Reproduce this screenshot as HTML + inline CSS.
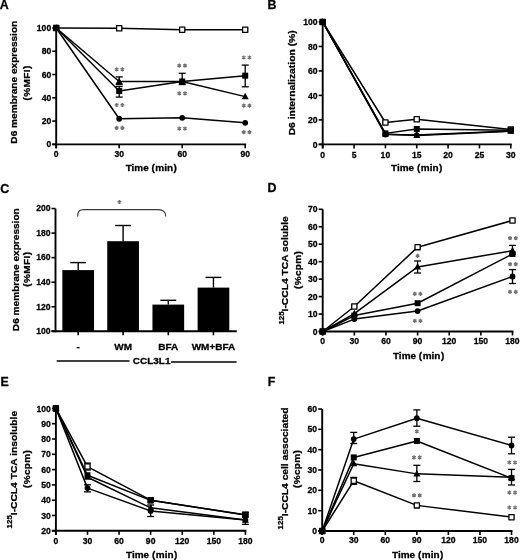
<!DOCTYPE html>
<html><head><meta charset="utf-8"><style>
html,body{margin:0;padding:0;background:#fff;}
body{width:520px;height:560px;overflow:hidden;}
svg{display:block;filter:grayscale(1) blur(0.3px);}
</style></head><body>
<svg width="520" height="560" viewBox="0 0 520 560" font-family='"Liberation Sans", sans-serif' stroke-linejoin="round">
<style>text{stroke:#000;stroke-width:0.28px;}</style>
<rect width="520" height="560" fill="#fff"/>
<text x="-0.2" y="8.7" font-size="12.4" text-anchor="start" fill="#000" font-weight="bold" >A</text>
<line x1="56.2" y1="27.95" x2="56.2" y2="148.35" stroke="#000" stroke-width="1.9" stroke-linecap="butt"/>
<line x1="52.2" y1="144.35" x2="246.15" y2="144.35" stroke="#000" stroke-width="1.9" stroke-linecap="butt"/>
<line x1="56.2" y1="144.35" x2="56.2" y2="148.35" stroke="#000" stroke-width="1.6" stroke-linecap="butt"/>
<text x="56.2" y="157.2" font-size="8.6" text-anchor="middle" fill="#000" font-weight="bold" >0</text>
<line x1="119.2" y1="144.35" x2="119.2" y2="148.35" stroke="#000" stroke-width="1.6" stroke-linecap="butt"/>
<text x="119.2" y="157.2" font-size="8.6" text-anchor="middle" fill="#000" font-weight="bold" >30</text>
<line x1="182.2" y1="144.35" x2="182.2" y2="148.35" stroke="#000" stroke-width="1.6" stroke-linecap="butt"/>
<text x="182.2" y="157.2" font-size="8.6" text-anchor="middle" fill="#000" font-weight="bold" >60</text>
<line x1="245.2" y1="144.35" x2="245.2" y2="148.35" stroke="#000" stroke-width="1.6" stroke-linecap="butt"/>
<text x="245.2" y="157.2" font-size="8.6" text-anchor="middle" fill="#000" font-weight="bold" >90</text>
<line x1="52.2" y1="144.35" x2="56.2" y2="144.35" stroke="#000" stroke-width="1.6" stroke-linecap="butt"/>
<text x="51.2" y="147.45" font-size="8.6" text-anchor="end" fill="#000" font-weight="bold" >0</text>
<line x1="52.2" y1="121.07" x2="56.2" y2="121.07" stroke="#000" stroke-width="1.6" stroke-linecap="butt"/>
<text x="51.2" y="124.17" font-size="8.6" text-anchor="end" fill="#000" font-weight="bold" >20</text>
<line x1="52.2" y1="97.79" x2="56.2" y2="97.79" stroke="#000" stroke-width="1.6" stroke-linecap="butt"/>
<text x="51.2" y="100.89" font-size="8.6" text-anchor="end" fill="#000" font-weight="bold" >40</text>
<line x1="52.2" y1="74.51" x2="56.2" y2="74.51" stroke="#000" stroke-width="1.6" stroke-linecap="butt"/>
<text x="51.2" y="77.61" font-size="8.6" text-anchor="end" fill="#000" font-weight="bold" >60</text>
<line x1="52.2" y1="51.23" x2="56.2" y2="51.23" stroke="#000" stroke-width="1.6" stroke-linecap="butt"/>
<text x="51.2" y="54.33" font-size="8.6" text-anchor="end" fill="#000" font-weight="bold" >80</text>
<line x1="52.2" y1="27.95" x2="56.2" y2="27.95" stroke="#000" stroke-width="1.6" stroke-linecap="butt"/>
<text x="51.2" y="31.05" font-size="8.6" text-anchor="end" fill="#000" font-weight="bold" >100</text>
<text transform="translate(151.3,171.2) scale(1.09,1)" font-size="9.17" text-anchor="middle" fill="#000" font-weight="bold" >Time (<tspan dx="0.45">min</tspan><tspan dx="0.45">)</tspan></text>
<text transform="translate(17.2,82.2) rotate(-90) scale(1.04,1)" font-size="9.73" text-anchor="middle" font-weight="bold" >D6 membrane expression</text>
<text transform="translate(29.5,82.8) rotate(-90) scale(1.04,1)" font-size="9.62" text-anchor="middle" font-weight="bold" letter-spacing="0.4">(%MFI)</text>
<polyline points="56.2,27.95 119.2,28.3 182.2,29.7 245.2,29.7" fill="none" stroke="#000" stroke-width="1.5" stroke-linejoin="round"/>
<polyline points="56.2,27.95 119.2,81.49 182.2,81.49 245.2,96.63" fill="none" stroke="#000" stroke-width="1.5" stroke-linejoin="round"/>
<polyline points="56.2,27.95 119.2,91.04 182.2,81.49 245.2,75.67" fill="none" stroke="#000" stroke-width="1.5" stroke-linejoin="round"/>
<polyline points="56.2,27.95 119.2,118.74 182.2,117.81 245.2,122.82" fill="none" stroke="#000" stroke-width="1.5" stroke-linejoin="round"/>
<line x1="119.2" y1="76.9" x2="119.2" y2="84.5" stroke="#000" stroke-width="1.3" stroke-linecap="butt"/>
<line x1="115.7" y1="76.9" x2="122.7" y2="76.9" stroke="#000" stroke-width="1.3" stroke-linecap="butt"/>
<line x1="115.7" y1="84.5" x2="122.7" y2="84.5" stroke="#000" stroke-width="1.3" stroke-linecap="butt"/>
<line x1="119.2" y1="86.5" x2="119.2" y2="97.1" stroke="#000" stroke-width="1.3" stroke-linecap="butt"/>
<line x1="115.7" y1="86.5" x2="122.7" y2="86.5" stroke="#000" stroke-width="1.3" stroke-linecap="butt"/>
<line x1="115.7" y1="97.1" x2="122.7" y2="97.1" stroke="#000" stroke-width="1.3" stroke-linecap="butt"/>
<line x1="182.2" y1="73.3" x2="182.2" y2="84.5" stroke="#000" stroke-width="1.3" stroke-linecap="butt"/>
<line x1="178.7" y1="73.3" x2="185.7" y2="73.3" stroke="#000" stroke-width="1.3" stroke-linecap="butt"/>
<line x1="178.7" y1="84.5" x2="185.7" y2="84.5" stroke="#000" stroke-width="1.3" stroke-linecap="butt"/>
<line x1="245.2" y1="65.1" x2="245.2" y2="86.8" stroke="#000" stroke-width="1.3" stroke-linecap="butt"/>
<line x1="241.7" y1="65.1" x2="248.7" y2="65.1" stroke="#000" stroke-width="1.3" stroke-linecap="butt"/>
<line x1="241.7" y1="86.8" x2="248.7" y2="86.8" stroke="#000" stroke-width="1.3" stroke-linecap="butt"/>
<rect x="53.6" y="25.35" width="5.2" height="5.2" fill="#fff" stroke="#000" stroke-width="1.3"/>
<rect x="116.6" y="25.7" width="5.2" height="5.2" fill="#fff" stroke="#000" stroke-width="1.3"/>
<rect x="179.6" y="27.1" width="5.2" height="5.2" fill="#fff" stroke="#000" stroke-width="1.3"/>
<rect x="242.6" y="27.1" width="5.2" height="5.2" fill="#fff" stroke="#000" stroke-width="1.3"/>
<polygon points="56.2,24.11 52.7,30.51 59.7,30.51" fill="#000"/>
<polygon points="119.2,77.65 115.7,84.05 122.7,84.05" fill="#000"/>
<polygon points="182.2,77.65 178.7,84.05 185.7,84.05" fill="#000"/>
<polygon points="245.2,92.79 241.7,99.19 248.7,99.19" fill="#000"/>
<rect x="53.2" y="24.95" width="6.0" height="6.0" fill="#000"/>
<rect x="116.2" y="88.04" width="6.0" height="6.0" fill="#000"/>
<rect x="179.2" y="78.49" width="6.0" height="6.0" fill="#000"/>
<rect x="242.2" y="72.67" width="6.0" height="6.0" fill="#000"/>
<circle cx="56.2" cy="27.95" r="2.9" fill="#000"/>
<circle cx="119.2" cy="118.74" r="2.9" fill="#000"/>
<circle cx="182.2" cy="117.81" r="2.9" fill="#000"/>
<circle cx="245.2" cy="122.82" r="2.9" fill="#000"/>
<path d="M116.65,67.2L116.65,71.4M114.83,68.25L118.47,70.35M118.47,68.25L114.83,70.35M122.35,67.2L122.35,71.4M120.53,68.25L124.17,70.35M124.17,68.25L120.53,70.35" stroke="#707070" stroke-width="1.25" fill="none"/>
<path d="M116.65,102.9L116.65,107.1M114.83,103.95L118.47,106.05M118.47,103.95L114.83,106.05M122.35,102.9L122.35,107.1M120.53,103.95L124.17,106.05M124.17,103.95L120.53,106.05" stroke="#707070" stroke-width="1.25" fill="none"/>
<path d="M116.65,125.8L116.65,130M114.83,126.85L118.47,128.95M118.47,126.85L114.83,128.95M122.35,125.8L122.35,130M120.53,126.85L124.17,128.95M124.17,126.85L120.53,128.95" stroke="#707070" stroke-width="1.25" fill="none"/>
<path d="M179.25,63.6L179.25,67.8M177.43,64.65L181.07,66.75M181.07,64.65L177.43,66.75M184.95,63.6L184.95,67.8M183.13,64.65L186.77,66.75M186.77,64.65L183.13,66.75" stroke="#707070" stroke-width="1.25" fill="none"/>
<path d="M179.25,91.2L179.25,95.4M177.43,92.25L181.07,94.35M181.07,92.25L177.43,94.35M184.95,91.2L184.95,95.4M183.13,92.25L186.77,94.35M186.77,92.25L183.13,94.35" stroke="#707070" stroke-width="1.25" fill="none"/>
<path d="M179.25,126.5L179.25,130.7M177.43,127.55L181.07,129.65M181.07,127.55L177.43,129.65M184.95,126.5L184.95,130.7M183.13,127.55L186.77,129.65M186.77,127.55L183.13,129.65" stroke="#707070" stroke-width="1.25" fill="none"/>
<path d="M243.75,55.4L243.75,59.6M241.93,56.45L245.57,58.55M245.57,56.45L241.93,58.55M249.45,55.4L249.45,59.6M247.63,56.45L251.27,58.55M251.27,56.45L247.63,58.55" stroke="#707070" stroke-width="1.25" fill="none"/>
<path d="M243.75,103.6L243.75,107.8M241.93,104.65L245.57,106.75M245.57,104.65L241.93,106.75M249.45,103.6L249.45,107.8M247.63,104.65L251.27,106.75M251.27,104.65L247.63,106.75" stroke="#707070" stroke-width="1.25" fill="none"/>
<path d="M243.75,130.1L243.75,134.3M241.93,131.15L245.57,133.25M245.57,131.15L241.93,133.25M249.45,130.1L249.45,134.3M247.63,131.15L251.27,133.25M251.27,131.15L247.63,133.25" stroke="#707070" stroke-width="1.25" fill="none"/>
<text x="267.4" y="8.9" font-size="12.4" text-anchor="start" fill="#000" font-weight="bold" >B</text>
<line x1="322.7" y1="21.95" x2="322.7" y2="148.4" stroke="#000" stroke-width="1.9" stroke-linecap="butt"/>
<line x1="318.7" y1="144.4" x2="511.75" y2="144.4" stroke="#000" stroke-width="1.9" stroke-linecap="butt"/>
<line x1="322.7" y1="144.4" x2="322.7" y2="148.4" stroke="#000" stroke-width="1.6" stroke-linecap="butt"/>
<text x="322.7" y="157.5" font-size="8.6" text-anchor="middle" fill="#000" font-weight="bold" >0</text>
<line x1="354.05" y1="144.4" x2="354.05" y2="148.4" stroke="#000" stroke-width="1.6" stroke-linecap="butt"/>
<text x="354.05" y="157.5" font-size="8.6" text-anchor="middle" fill="#000" font-weight="bold" >5</text>
<line x1="385.4" y1="144.4" x2="385.4" y2="148.4" stroke="#000" stroke-width="1.6" stroke-linecap="butt"/>
<text x="385.4" y="157.5" font-size="8.6" text-anchor="middle" fill="#000" font-weight="bold" >10</text>
<line x1="416.75" y1="144.4" x2="416.75" y2="148.4" stroke="#000" stroke-width="1.6" stroke-linecap="butt"/>
<text x="416.75" y="157.5" font-size="8.6" text-anchor="middle" fill="#000" font-weight="bold" >15</text>
<line x1="448.1" y1="144.4" x2="448.1" y2="148.4" stroke="#000" stroke-width="1.6" stroke-linecap="butt"/>
<text x="448.1" y="157.5" font-size="8.6" text-anchor="middle" fill="#000" font-weight="bold" >20</text>
<line x1="479.45" y1="144.4" x2="479.45" y2="148.4" stroke="#000" stroke-width="1.6" stroke-linecap="butt"/>
<text x="479.45" y="157.5" font-size="8.6" text-anchor="middle" fill="#000" font-weight="bold" >25</text>
<line x1="510.8" y1="144.4" x2="510.8" y2="148.4" stroke="#000" stroke-width="1.6" stroke-linecap="butt"/>
<text x="510.8" y="157.5" font-size="8.6" text-anchor="middle" fill="#000" font-weight="bold" >30</text>
<line x1="318.7" y1="144.4" x2="322.7" y2="144.4" stroke="#000" stroke-width="1.6" stroke-linecap="butt"/>
<text x="317.5" y="147.5" font-size="8.6" text-anchor="end" fill="#000" font-weight="bold" >0</text>
<line x1="318.7" y1="119.91" x2="322.7" y2="119.91" stroke="#000" stroke-width="1.6" stroke-linecap="butt"/>
<text x="317.5" y="123.01" font-size="8.6" text-anchor="end" fill="#000" font-weight="bold" >20</text>
<line x1="318.7" y1="95.42" x2="322.7" y2="95.42" stroke="#000" stroke-width="1.6" stroke-linecap="butt"/>
<text x="317.5" y="98.52" font-size="8.6" text-anchor="end" fill="#000" font-weight="bold" >40</text>
<line x1="318.7" y1="70.93" x2="322.7" y2="70.93" stroke="#000" stroke-width="1.6" stroke-linecap="butt"/>
<text x="317.5" y="74.03" font-size="8.6" text-anchor="end" fill="#000" font-weight="bold" >60</text>
<line x1="318.7" y1="46.44" x2="322.7" y2="46.44" stroke="#000" stroke-width="1.6" stroke-linecap="butt"/>
<text x="317.5" y="49.54" font-size="8.6" text-anchor="end" fill="#000" font-weight="bold" >80</text>
<line x1="318.7" y1="21.95" x2="322.7" y2="21.95" stroke="#000" stroke-width="1.6" stroke-linecap="butt"/>
<text x="317.5" y="25.05" font-size="8.6" text-anchor="end" fill="#000" font-weight="bold" >100</text>
<text transform="translate(416.7,171.4) scale(1.09,1)" font-size="9.17" text-anchor="middle" fill="#000" font-weight="bold" >Time (<tspan dx="0.45">min</tspan><tspan dx="0.45">)</tspan></text>
<text transform="translate(295.2,82.8) rotate(-90) scale(1.04,1)" font-size="9.95" text-anchor="middle" font-weight="bold" >D6 internalization (%)</text>
<polyline points="322.7,21.95 385.4,122.48 416.75,119.3 510.8,129.46" fill="none" stroke="#000" stroke-width="1.5" stroke-linejoin="round"/>
<polyline points="322.7,21.95 385.4,133.99 416.75,135.46 510.8,131.18" fill="none" stroke="#000" stroke-width="1.5" stroke-linejoin="round"/>
<polyline points="322.7,21.95 385.4,134.6 416.75,135.09 510.8,130.93" fill="none" stroke="#000" stroke-width="1.5" stroke-linejoin="round"/>
<polyline points="322.7,21.95 385.4,133.38 416.75,128.97 510.8,130.2" fill="none" stroke="#000" stroke-width="1.5" stroke-linejoin="round"/>
<rect x="320.1" y="19.35" width="5.2" height="5.2" fill="#fff" stroke="#000" stroke-width="1.3"/>
<rect x="382.8" y="119.88" width="5.2" height="5.2" fill="#fff" stroke="#000" stroke-width="1.3"/>
<rect x="414.15" y="116.7" width="5.2" height="5.2" fill="#fff" stroke="#000" stroke-width="1.3"/>
<rect x="508.2" y="126.86" width="5.2" height="5.2" fill="#fff" stroke="#000" stroke-width="1.3"/>
<polygon points="322.7,18.11 319.2,24.51 326.2,24.51" fill="#000"/>
<polygon points="385.4,130.15 381.9,136.55 388.9,136.55" fill="#000"/>
<polygon points="416.75,131.62 413.25,138.02 420.25,138.02" fill="#000"/>
<polygon points="510.8,127.34 507.3,133.74 514.3,133.74" fill="#000"/>
<circle cx="322.7" cy="21.95" r="2.9" fill="#000"/>
<circle cx="385.4" cy="134.6" r="2.9" fill="#000"/>
<circle cx="416.75" cy="135.09" r="2.9" fill="#000"/>
<circle cx="510.8" cy="130.93" r="2.9" fill="#000"/>
<rect x="319.7" y="18.95" width="6.0" height="6.0" fill="#000"/>
<rect x="382.4" y="130.38" width="6.0" height="6.0" fill="#000"/>
<rect x="413.75" y="125.97" width="6.0" height="6.0" fill="#000"/>
<rect x="507.8" y="127.2" width="6.0" height="6.0" fill="#000"/>
<text x="0.2" y="192.5" font-size="12.4" text-anchor="start" fill="#000" font-weight="bold" >C</text>
<line x1="55.5" y1="208.55" x2="55.5" y2="332.25" stroke="#000" stroke-width="1.9" stroke-linecap="butt"/>
<line x1="51.5" y1="331.3" x2="236.8" y2="331.3" stroke="#000" stroke-width="1.9" stroke-linecap="butt"/>
<line x1="51.5" y1="331.3" x2="55.5" y2="331.3" stroke="#000" stroke-width="1.6" stroke-linecap="butt"/>
<text x="50.6" y="334.1" font-size="8.6" text-anchor="end" fill="#000" font-weight="bold" >100</text>
<line x1="51.5" y1="306.75" x2="55.5" y2="306.75" stroke="#000" stroke-width="1.6" stroke-linecap="butt"/>
<text x="50.6" y="309.55" font-size="8.6" text-anchor="end" fill="#000" font-weight="bold" >120</text>
<line x1="51.5" y1="282.2" x2="55.5" y2="282.2" stroke="#000" stroke-width="1.6" stroke-linecap="butt"/>
<text x="50.6" y="285" font-size="8.6" text-anchor="end" fill="#000" font-weight="bold" >140</text>
<line x1="51.5" y1="257.65" x2="55.5" y2="257.65" stroke="#000" stroke-width="1.6" stroke-linecap="butt"/>
<text x="50.6" y="260.45" font-size="8.6" text-anchor="end" fill="#000" font-weight="bold" >160</text>
<line x1="51.5" y1="233.1" x2="55.5" y2="233.1" stroke="#000" stroke-width="1.6" stroke-linecap="butt"/>
<text x="50.6" y="235.9" font-size="8.6" text-anchor="end" fill="#000" font-weight="bold" >180</text>
<line x1="51.5" y1="208.55" x2="55.5" y2="208.55" stroke="#000" stroke-width="1.6" stroke-linecap="butt"/>
<text x="50.6" y="211.35" font-size="8.6" text-anchor="end" fill="#000" font-weight="bold" >200</text>
<line x1="78.2" y1="270.1" x2="78.2" y2="262.6" stroke="#000" stroke-width="1.4" stroke-linecap="butt"/>
<line x1="70.3" y1="262.6" x2="86.1" y2="262.6" stroke="#000" stroke-width="1.4" stroke-linecap="butt"/>
<rect x="62.35" y="270.1" width="31.7" height="61.2" fill="#000"/>
<line x1="78.2" y1="331.3" x2="78.2" y2="335.3" stroke="#000" stroke-width="1.6" stroke-linecap="butt"/>
<line x1="123.1" y1="241.2" x2="123.1" y2="225.5" stroke="#000" stroke-width="1.4" stroke-linecap="butt"/>
<line x1="115.2" y1="225.5" x2="131" y2="225.5" stroke="#000" stroke-width="1.4" stroke-linecap="butt"/>
<rect x="107.25" y="241.2" width="31.7" height="90.1" fill="#000"/>
<line x1="123.1" y1="331.3" x2="123.1" y2="335.3" stroke="#000" stroke-width="1.6" stroke-linecap="butt"/>
<text transform="translate(123.1,350) scale(1.09,1)" font-size="9.17" text-anchor="middle" fill="#000" font-weight="bold" >WM</text>
<line x1="168.3" y1="304.6" x2="168.3" y2="300.3" stroke="#000" stroke-width="1.4" stroke-linecap="butt"/>
<line x1="160.4" y1="300.3" x2="176.2" y2="300.3" stroke="#000" stroke-width="1.4" stroke-linecap="butt"/>
<rect x="152.45" y="304.6" width="31.7" height="26.7" fill="#000"/>
<line x1="168.3" y1="331.3" x2="168.3" y2="335.3" stroke="#000" stroke-width="1.6" stroke-linecap="butt"/>
<text transform="translate(168.3,350) scale(1.09,1)" font-size="9.17" text-anchor="middle" fill="#000" font-weight="bold" >BFA</text>
<line x1="213.45" y1="287.6" x2="213.45" y2="277.4" stroke="#000" stroke-width="1.4" stroke-linecap="butt"/>
<line x1="205.55" y1="277.4" x2="221.35" y2="277.4" stroke="#000" stroke-width="1.4" stroke-linecap="butt"/>
<rect x="197.6" y="287.6" width="31.7" height="43.7" fill="#000"/>
<line x1="213.45" y1="331.3" x2="213.45" y2="335.3" stroke="#000" stroke-width="1.6" stroke-linecap="butt"/>
<text transform="translate(213.45,350) scale(1.09,1)" font-size="9.17" text-anchor="middle" fill="#000" font-weight="bold" >WM+BFA</text>
<text transform="translate(78.2,350) scale(1.09,1)" font-size="9.17" text-anchor="middle" fill="#000" font-weight="bold" >-</text>
<path d="M77.6,216.6 C77.6,211 79.5,209.6 84,209.6 L158.5,209.6 C163,209.6 165.6,211 165.8,216.6" fill="none" stroke="#3a3a3a" stroke-width="1.1"/>
<path d="M119.4,199.9L119.4,204.1M117.58,200.95L121.22,203.05M121.22,200.95L117.58,203.05" stroke="#707070" stroke-width="1.25" fill="none"/>
<line x1="56.7" y1="361" x2="129.5" y2="361" stroke="#000" stroke-width="1.3" stroke-linecap="butt"/>
<text transform="translate(151.6,363.8) scale(1.09,1)" font-size="9.17" text-anchor="middle" fill="#000" font-weight="bold" >CCL3L1</text>
<line x1="171" y1="362" x2="236.6" y2="362" stroke="#000" stroke-width="1.3" stroke-linecap="butt"/>
<text transform="translate(18.6,269.7) rotate(-90) scale(1.04,1)" font-size="9.73" text-anchor="middle" font-weight="bold" >D6 membrane expression</text>
<text transform="translate(30.3,269.2) rotate(-90) scale(1.04,1)" font-size="9.62" text-anchor="middle" font-weight="bold" letter-spacing="0.4">(%MFI)</text>
<text x="267.4" y="192.3" font-size="12.4" text-anchor="start" fill="#000" font-weight="bold" >D</text>
<line x1="322.7" y1="209.28" x2="322.7" y2="335.5" stroke="#000" stroke-width="1.9" stroke-linecap="butt"/>
<line x1="318.7" y1="331.5" x2="513.44" y2="331.5" stroke="#000" stroke-width="1.9" stroke-linecap="butt"/>
<line x1="322.7" y1="331.5" x2="322.7" y2="335.5" stroke="#000" stroke-width="1.6" stroke-linecap="butt"/>
<text x="322.7" y="344.2" font-size="8.6" text-anchor="middle" fill="#000" font-weight="bold" >0</text>
<line x1="354.33" y1="331.5" x2="354.33" y2="335.5" stroke="#000" stroke-width="1.6" stroke-linecap="butt"/>
<text x="354.33" y="344.2" font-size="8.6" text-anchor="middle" fill="#000" font-weight="bold" >30</text>
<line x1="385.96" y1="331.5" x2="385.96" y2="335.5" stroke="#000" stroke-width="1.6" stroke-linecap="butt"/>
<text x="385.96" y="344.2" font-size="8.6" text-anchor="middle" fill="#000" font-weight="bold" >60</text>
<line x1="417.6" y1="331.5" x2="417.6" y2="335.5" stroke="#000" stroke-width="1.6" stroke-linecap="butt"/>
<text x="417.6" y="344.2" font-size="8.6" text-anchor="middle" fill="#000" font-weight="bold" >90</text>
<line x1="449.23" y1="331.5" x2="449.23" y2="335.5" stroke="#000" stroke-width="1.6" stroke-linecap="butt"/>
<text x="449.23" y="344.2" font-size="8.6" text-anchor="middle" fill="#000" font-weight="bold" >120</text>
<line x1="480.86" y1="331.5" x2="480.86" y2="335.5" stroke="#000" stroke-width="1.6" stroke-linecap="butt"/>
<text x="480.86" y="344.2" font-size="8.6" text-anchor="middle" fill="#000" font-weight="bold" >150</text>
<line x1="512.49" y1="331.5" x2="512.49" y2="335.5" stroke="#000" stroke-width="1.6" stroke-linecap="butt"/>
<text x="512.49" y="344.2" font-size="8.6" text-anchor="middle" fill="#000" font-weight="bold" >180</text>
<line x1="318.7" y1="331.5" x2="322.7" y2="331.5" stroke="#000" stroke-width="1.6" stroke-linecap="butt"/>
<text x="317.5" y="334.6" font-size="8.6" text-anchor="end" fill="#000" font-weight="bold" >0</text>
<line x1="318.7" y1="314.04" x2="322.7" y2="314.04" stroke="#000" stroke-width="1.6" stroke-linecap="butt"/>
<text x="317.5" y="317.14" font-size="8.6" text-anchor="end" fill="#000" font-weight="bold" >10</text>
<line x1="318.7" y1="296.58" x2="322.7" y2="296.58" stroke="#000" stroke-width="1.6" stroke-linecap="butt"/>
<text x="317.5" y="299.68" font-size="8.6" text-anchor="end" fill="#000" font-weight="bold" >20</text>
<line x1="318.7" y1="279.12" x2="322.7" y2="279.12" stroke="#000" stroke-width="1.6" stroke-linecap="butt"/>
<text x="317.5" y="282.22" font-size="8.6" text-anchor="end" fill="#000" font-weight="bold" >30</text>
<line x1="318.7" y1="261.66" x2="322.7" y2="261.66" stroke="#000" stroke-width="1.6" stroke-linecap="butt"/>
<text x="317.5" y="264.76" font-size="8.6" text-anchor="end" fill="#000" font-weight="bold" >40</text>
<line x1="318.7" y1="244.2" x2="322.7" y2="244.2" stroke="#000" stroke-width="1.6" stroke-linecap="butt"/>
<text x="317.5" y="247.3" font-size="8.6" text-anchor="end" fill="#000" font-weight="bold" >50</text>
<line x1="318.7" y1="226.74" x2="322.7" y2="226.74" stroke="#000" stroke-width="1.6" stroke-linecap="butt"/>
<text x="317.5" y="229.84" font-size="8.6" text-anchor="end" fill="#000" font-weight="bold" >60</text>
<line x1="318.7" y1="209.28" x2="322.7" y2="209.28" stroke="#000" stroke-width="1.6" stroke-linecap="butt"/>
<text x="317.5" y="212.38" font-size="8.6" text-anchor="end" fill="#000" font-weight="bold" >70</text>
<text transform="translate(418.6,359.4) scale(1.09,1)" font-size="9.17" text-anchor="middle" fill="#000" font-weight="bold" >Time (<tspan dx="0.45">min</tspan><tspan dx="0.45">)</tspan></text>
<text transform="translate(287.9,324.6) rotate(-90) scale(1.04,1)" font-size="9.86" font-weight="bold"><tspan font-size="7.6" dy="-4.3">125</tspan><tspan dy="4.3">I-CCL4 TCA soluble</tspan></text>
<text transform="translate(300.6,269.9) rotate(-90) scale(1.04,1)" font-size="9.62" text-anchor="middle" font-weight="bold" letter-spacing="0.35">(%cpm)</text>
<polyline points="322.7,331.5 354.33,306.53 417.6,247.17 512.49,220.45" fill="none" stroke="#000" stroke-width="1.5" stroke-linejoin="round"/>
<polyline points="322.7,331.5 354.33,313.69 417.6,266.9 512.49,250.66" fill="none" stroke="#000" stroke-width="1.5" stroke-linejoin="round"/>
<polyline points="322.7,331.5 354.33,315.61 417.6,303.21 512.49,253.98" fill="none" stroke="#000" stroke-width="1.5" stroke-linejoin="round"/>
<polyline points="322.7,331.5 354.33,319.1 417.6,311.07 512.49,276.5" fill="none" stroke="#000" stroke-width="1.5" stroke-linejoin="round"/>
<line x1="417.6" y1="261" x2="417.6" y2="273" stroke="#000" stroke-width="1.3" stroke-linecap="butt"/>
<line x1="414.1" y1="261" x2="421.1" y2="261" stroke="#000" stroke-width="1.3" stroke-linecap="butt"/>
<line x1="414.1" y1="273" x2="421.1" y2="273" stroke="#000" stroke-width="1.3" stroke-linecap="butt"/>
<line x1="512.49" y1="245.4" x2="512.49" y2="254" stroke="#000" stroke-width="1.3" stroke-linecap="butt"/>
<line x1="508.99" y1="245.4" x2="515.99" y2="245.4" stroke="#000" stroke-width="1.3" stroke-linecap="butt"/>
<line x1="508.99" y1="254" x2="515.99" y2="254" stroke="#000" stroke-width="1.3" stroke-linecap="butt"/>
<line x1="512.49" y1="269.6" x2="512.49" y2="283.5" stroke="#000" stroke-width="1.3" stroke-linecap="butt"/>
<line x1="508.99" y1="269.6" x2="515.99" y2="269.6" stroke="#000" stroke-width="1.3" stroke-linecap="butt"/>
<line x1="508.99" y1="283.5" x2="515.99" y2="283.5" stroke="#000" stroke-width="1.3" stroke-linecap="butt"/>
<rect x="320.1" y="328.9" width="5.2" height="5.2" fill="#fff" stroke="#000" stroke-width="1.3"/>
<rect x="351.73" y="303.93" width="5.2" height="5.2" fill="#fff" stroke="#000" stroke-width="1.3"/>
<rect x="415" y="244.57" width="5.2" height="5.2" fill="#fff" stroke="#000" stroke-width="1.3"/>
<rect x="509.89" y="217.85" width="5.2" height="5.2" fill="#fff" stroke="#000" stroke-width="1.3"/>
<polygon points="322.7,327.66 319.2,334.06 326.2,334.06" fill="#000"/>
<polygon points="354.33,309.85 350.83,316.25 357.83,316.25" fill="#000"/>
<polygon points="417.6,263.06 414.1,269.46 421.1,269.46" fill="#000"/>
<polygon points="512.49,246.82 508.99,253.22 515.99,253.22" fill="#000"/>
<rect x="319.7" y="328.5" width="6.0" height="6.0" fill="#000"/>
<rect x="351.33" y="312.61" width="6.0" height="6.0" fill="#000"/>
<rect x="414.6" y="300.21" width="6.0" height="6.0" fill="#000"/>
<rect x="509.49" y="250.98" width="6.0" height="6.0" fill="#000"/>
<circle cx="322.7" cy="331.5" r="2.9" fill="#000"/>
<circle cx="354.33" cy="319.1" r="2.9" fill="#000"/>
<circle cx="417.6" cy="311.07" r="2.9" fill="#000"/>
<circle cx="512.49" cy="276.5" r="2.9" fill="#000"/>
<path d="M417.6,253.7L417.6,257.9M415.78,254.75L419.41,256.85M419.41,254.75L415.78,256.85" stroke="#707070" stroke-width="1.25" fill="none"/>
<path d="M414.75,291.7L414.75,295.9M412.93,292.75L416.56,294.85M416.56,292.75L412.93,294.85M420.45,291.7L420.45,295.9M418.63,292.75L422.26,294.85M422.26,292.75L418.63,294.85" stroke="#707070" stroke-width="1.25" fill="none"/>
<path d="M414.75,318.7L414.75,322.9M412.93,319.75L416.56,321.85M416.56,319.75L412.93,321.85M420.45,318.7L420.45,322.9M418.63,319.75L422.26,321.85M422.26,319.75L418.63,321.85" stroke="#707070" stroke-width="1.25" fill="none"/>
<path d="M510.05,236.1L510.05,240.3M508.23,237.15L511.87,239.25M511.87,237.15L508.23,239.25M515.75,236.1L515.75,240.3M513.93,237.15L517.57,239.25M517.57,237.15L513.93,239.25" stroke="#707070" stroke-width="1.25" fill="none"/>
<path d="M510.05,262.1L510.05,266.3M508.23,263.15L511.87,265.25M511.87,263.15L508.23,265.25M515.75,262.1L515.75,266.3M513.93,263.15L517.57,265.25M517.57,263.15L513.93,265.25" stroke="#707070" stroke-width="1.25" fill="none"/>
<path d="M510.05,289.7L510.05,293.9M508.23,290.75L511.87,292.85M511.87,290.75L508.23,292.85M515.75,289.7L515.75,293.9M513.93,290.75L517.57,292.85M517.57,290.75L513.93,292.85" stroke="#707070" stroke-width="1.25" fill="none"/>
<text x="0.5" y="385.8" font-size="12.4" text-anchor="start" fill="#000" font-weight="bold" >E</text>
<line x1="55.9" y1="408.4" x2="55.9" y2="534.8" stroke="#000" stroke-width="1.9" stroke-linecap="butt"/>
<line x1="51.9" y1="530.8" x2="246.35" y2="530.8" stroke="#000" stroke-width="1.9" stroke-linecap="butt"/>
<line x1="55.9" y1="530.8" x2="55.9" y2="534.8" stroke="#000" stroke-width="1.6" stroke-linecap="butt"/>
<text x="55.9" y="544.2" font-size="8.6" text-anchor="middle" fill="#000" font-weight="bold" >0</text>
<line x1="87.48" y1="530.8" x2="87.48" y2="534.8" stroke="#000" stroke-width="1.6" stroke-linecap="butt"/>
<text x="87.48" y="544.2" font-size="8.6" text-anchor="middle" fill="#000" font-weight="bold" >30</text>
<line x1="119.07" y1="530.8" x2="119.07" y2="534.8" stroke="#000" stroke-width="1.6" stroke-linecap="butt"/>
<text x="119.07" y="544.2" font-size="8.6" text-anchor="middle" fill="#000" font-weight="bold" >60</text>
<line x1="150.65" y1="530.8" x2="150.65" y2="534.8" stroke="#000" stroke-width="1.6" stroke-linecap="butt"/>
<text x="150.65" y="544.2" font-size="8.6" text-anchor="middle" fill="#000" font-weight="bold" >90</text>
<line x1="182.24" y1="530.8" x2="182.24" y2="534.8" stroke="#000" stroke-width="1.6" stroke-linecap="butt"/>
<text x="182.24" y="544.2" font-size="8.6" text-anchor="middle" fill="#000" font-weight="bold" >120</text>
<line x1="213.82" y1="530.8" x2="213.82" y2="534.8" stroke="#000" stroke-width="1.6" stroke-linecap="butt"/>
<text x="213.82" y="544.2" font-size="8.6" text-anchor="middle" fill="#000" font-weight="bold" >150</text>
<line x1="245.4" y1="530.8" x2="245.4" y2="534.8" stroke="#000" stroke-width="1.6" stroke-linecap="butt"/>
<text x="245.4" y="544.2" font-size="8.6" text-anchor="middle" fill="#000" font-weight="bold" >180</text>
<line x1="51.9" y1="530.8" x2="55.9" y2="530.8" stroke="#000" stroke-width="1.6" stroke-linecap="butt"/>
<text x="50.8" y="533.9" font-size="8.6" text-anchor="end" fill="#000" font-weight="bold" >20</text>
<line x1="51.9" y1="515.5" x2="55.9" y2="515.5" stroke="#000" stroke-width="1.6" stroke-linecap="butt"/>
<text x="50.8" y="518.6" font-size="8.6" text-anchor="end" fill="#000" font-weight="bold" >30</text>
<line x1="51.9" y1="500.2" x2="55.9" y2="500.2" stroke="#000" stroke-width="1.6" stroke-linecap="butt"/>
<text x="50.8" y="503.3" font-size="8.6" text-anchor="end" fill="#000" font-weight="bold" >40</text>
<line x1="51.9" y1="484.9" x2="55.9" y2="484.9" stroke="#000" stroke-width="1.6" stroke-linecap="butt"/>
<text x="50.8" y="488" font-size="8.6" text-anchor="end" fill="#000" font-weight="bold" >50</text>
<line x1="51.9" y1="469.6" x2="55.9" y2="469.6" stroke="#000" stroke-width="1.6" stroke-linecap="butt"/>
<text x="50.8" y="472.7" font-size="8.6" text-anchor="end" fill="#000" font-weight="bold" >60</text>
<line x1="51.9" y1="454.3" x2="55.9" y2="454.3" stroke="#000" stroke-width="1.6" stroke-linecap="butt"/>
<text x="50.8" y="457.4" font-size="8.6" text-anchor="end" fill="#000" font-weight="bold" >70</text>
<line x1="51.9" y1="439" x2="55.9" y2="439" stroke="#000" stroke-width="1.6" stroke-linecap="butt"/>
<text x="50.8" y="442.1" font-size="8.6" text-anchor="end" fill="#000" font-weight="bold" >80</text>
<line x1="51.9" y1="423.7" x2="55.9" y2="423.7" stroke="#000" stroke-width="1.6" stroke-linecap="butt"/>
<text x="50.8" y="426.8" font-size="8.6" text-anchor="end" fill="#000" font-weight="bold" >90</text>
<line x1="51.9" y1="408.4" x2="55.9" y2="408.4" stroke="#000" stroke-width="1.6" stroke-linecap="butt"/>
<text x="50.8" y="411.5" font-size="8.6" text-anchor="end" fill="#000" font-weight="bold" >100</text>
<text transform="translate(151.7,558.2) scale(1.09,1)" font-size="9.17" text-anchor="middle" fill="#000" font-weight="bold" >Time (<tspan dx="0.45">min</tspan><tspan dx="0.45">)</tspan></text>
<text transform="translate(17.1,528.4) rotate(-90) scale(1.04,1)" font-size="9.86" font-weight="bold"><tspan font-size="7.6" dy="-5">125</tspan><tspan dy="5">I-CCL4 TCA insoluble</tspan></text>
<text transform="translate(29.7,468.9) rotate(-90) scale(1.04,1)" font-size="9.62" text-anchor="middle" font-weight="bold" letter-spacing="0.35">(%cpm)</text>
<polyline points="55.9,408.4 87.48,466.54 150.65,500.2 245.4,515.04" fill="none" stroke="#000" stroke-width="1.5" stroke-linejoin="round"/>
<polyline points="55.9,408.4 87.48,477.25 150.65,507.85 245.4,520.09" fill="none" stroke="#000" stroke-width="1.5" stroke-linejoin="round"/>
<polyline points="55.9,408.4 87.48,475.26 150.65,500.35 245.4,514.73" fill="none" stroke="#000" stroke-width="1.5" stroke-linejoin="round"/>
<polyline points="55.9,408.4 87.48,488.11 150.65,510.91 245.4,520.09" fill="none" stroke="#000" stroke-width="1.5" stroke-linejoin="round"/>
<line x1="87.48" y1="463.1" x2="87.48" y2="470" stroke="#000" stroke-width="1.3" stroke-linecap="butt"/>
<line x1="83.98" y1="463.1" x2="90.98" y2="463.1" stroke="#000" stroke-width="1.3" stroke-linecap="butt"/>
<line x1="83.98" y1="470" x2="90.98" y2="470" stroke="#000" stroke-width="1.3" stroke-linecap="butt"/>
<line x1="87.48" y1="484.8" x2="87.48" y2="491.9" stroke="#000" stroke-width="1.3" stroke-linecap="butt"/>
<line x1="83.98" y1="484.8" x2="90.98" y2="484.8" stroke="#000" stroke-width="1.3" stroke-linecap="butt"/>
<line x1="83.98" y1="491.9" x2="90.98" y2="491.9" stroke="#000" stroke-width="1.3" stroke-linecap="butt"/>
<line x1="150.65" y1="505" x2="150.65" y2="516.5" stroke="#000" stroke-width="1.3" stroke-linecap="butt"/>
<line x1="147.15" y1="505" x2="154.15" y2="505" stroke="#000" stroke-width="1.3" stroke-linecap="butt"/>
<line x1="147.15" y1="516.5" x2="154.15" y2="516.5" stroke="#000" stroke-width="1.3" stroke-linecap="butt"/>
<line x1="245.4" y1="512.3" x2="245.4" y2="524.4" stroke="#000" stroke-width="1.3" stroke-linecap="butt"/>
<line x1="241.9" y1="512.3" x2="248.9" y2="512.3" stroke="#000" stroke-width="1.3" stroke-linecap="butt"/>
<line x1="241.9" y1="524.4" x2="248.9" y2="524.4" stroke="#000" stroke-width="1.3" stroke-linecap="butt"/>
<rect x="53.3" y="405.8" width="5.2" height="5.2" fill="#fff" stroke="#000" stroke-width="1.3"/>
<rect x="84.88" y="463.94" width="5.2" height="5.2" fill="#fff" stroke="#000" stroke-width="1.3"/>
<rect x="148.05" y="497.6" width="5.2" height="5.2" fill="#fff" stroke="#000" stroke-width="1.3"/>
<rect x="242.8" y="512.44" width="5.2" height="5.2" fill="#fff" stroke="#000" stroke-width="1.3"/>
<polygon points="55.9,404.56 52.4,410.96 59.4,410.96" fill="#000"/>
<polygon points="87.48,473.41 83.98,479.81 90.98,479.81" fill="#000"/>
<polygon points="150.65,504.01 147.15,510.41 154.15,510.41" fill="#000"/>
<polygon points="245.4,516.25 241.9,522.65 248.9,522.65" fill="#000"/>
<rect x="52.9" y="405.4" width="6.0" height="6.0" fill="#000"/>
<rect x="84.48" y="472.26" width="6.0" height="6.0" fill="#000"/>
<rect x="147.65" y="497.35" width="6.0" height="6.0" fill="#000"/>
<rect x="242.4" y="511.73" width="6.0" height="6.0" fill="#000"/>
<circle cx="55.9" cy="408.4" r="2.9" fill="#000"/>
<circle cx="87.48" cy="488.11" r="2.9" fill="#000"/>
<circle cx="150.65" cy="510.91" r="2.9" fill="#000"/>
<circle cx="245.4" cy="520.09" r="2.9" fill="#000"/>
<text x="267.8" y="385.9" font-size="12.4" text-anchor="start" fill="#000" font-weight="bold" >F</text>
<line x1="322.2" y1="409.02" x2="322.2" y2="535" stroke="#000" stroke-width="1.9" stroke-linecap="butt"/>
<line x1="318.2" y1="531" x2="512.46" y2="531" stroke="#000" stroke-width="1.9" stroke-linecap="butt"/>
<line x1="322.2" y1="531" x2="322.2" y2="535" stroke="#000" stroke-width="1.6" stroke-linecap="butt"/>
<text x="322.2" y="543.2" font-size="8.6" text-anchor="middle" fill="#000" font-weight="bold" >0</text>
<line x1="353.75" y1="531" x2="353.75" y2="535" stroke="#000" stroke-width="1.6" stroke-linecap="butt"/>
<text x="353.75" y="543.2" font-size="8.6" text-anchor="middle" fill="#000" font-weight="bold" >30</text>
<line x1="385.3" y1="531" x2="385.3" y2="535" stroke="#000" stroke-width="1.6" stroke-linecap="butt"/>
<text x="385.3" y="543.2" font-size="8.6" text-anchor="middle" fill="#000" font-weight="bold" >60</text>
<line x1="416.85" y1="531" x2="416.85" y2="535" stroke="#000" stroke-width="1.6" stroke-linecap="butt"/>
<text x="416.85" y="543.2" font-size="8.6" text-anchor="middle" fill="#000" font-weight="bold" >90</text>
<line x1="448.4" y1="531" x2="448.4" y2="535" stroke="#000" stroke-width="1.6" stroke-linecap="butt"/>
<text x="448.4" y="543.2" font-size="8.6" text-anchor="middle" fill="#000" font-weight="bold" >120</text>
<line x1="479.96" y1="531" x2="479.96" y2="535" stroke="#000" stroke-width="1.6" stroke-linecap="butt"/>
<text x="479.96" y="543.2" font-size="8.6" text-anchor="middle" fill="#000" font-weight="bold" >150</text>
<line x1="511.51" y1="531" x2="511.51" y2="535" stroke="#000" stroke-width="1.6" stroke-linecap="butt"/>
<text x="511.51" y="543.2" font-size="8.6" text-anchor="middle" fill="#000" font-weight="bold" >180</text>
<line x1="318.2" y1="531" x2="322.2" y2="531" stroke="#000" stroke-width="1.6" stroke-linecap="butt"/>
<text x="317" y="534.1" font-size="8.6" text-anchor="end" fill="#000" font-weight="bold" >0</text>
<line x1="318.2" y1="510.67" x2="322.2" y2="510.67" stroke="#000" stroke-width="1.6" stroke-linecap="butt"/>
<text x="317" y="513.77" font-size="8.6" text-anchor="end" fill="#000" font-weight="bold" >10</text>
<line x1="318.2" y1="490.34" x2="322.2" y2="490.34" stroke="#000" stroke-width="1.6" stroke-linecap="butt"/>
<text x="317" y="493.44" font-size="8.6" text-anchor="end" fill="#000" font-weight="bold" >20</text>
<line x1="318.2" y1="470.01" x2="322.2" y2="470.01" stroke="#000" stroke-width="1.6" stroke-linecap="butt"/>
<text x="317" y="473.11" font-size="8.6" text-anchor="end" fill="#000" font-weight="bold" >30</text>
<line x1="318.2" y1="449.68" x2="322.2" y2="449.68" stroke="#000" stroke-width="1.6" stroke-linecap="butt"/>
<text x="317" y="452.78" font-size="8.6" text-anchor="end" fill="#000" font-weight="bold" >40</text>
<line x1="318.2" y1="429.35" x2="322.2" y2="429.35" stroke="#000" stroke-width="1.6" stroke-linecap="butt"/>
<text x="317" y="432.45" font-size="8.6" text-anchor="end" fill="#000" font-weight="bold" >50</text>
<line x1="318.2" y1="409.02" x2="322.2" y2="409.02" stroke="#000" stroke-width="1.6" stroke-linecap="butt"/>
<text x="317" y="412.12" font-size="8.6" text-anchor="end" fill="#000" font-weight="bold" >60</text>
<text transform="translate(417.7,557.8) scale(1.09,1)" font-size="9.17" text-anchor="middle" fill="#000" font-weight="bold" >Time (<tspan dx="0.45">min</tspan><tspan dx="0.45">)</tspan></text>
<text transform="translate(288.2,529.4) rotate(-90) scale(1.04,1)" font-size="9.86" font-weight="bold"><tspan font-size="7.6" dy="-4.8">125</tspan><tspan dy="4.8">I-CCL4 cell associated</tspan></text>
<text transform="translate(299.8,468.9) rotate(-90) scale(1.04,1)" font-size="9.62" text-anchor="middle" font-weight="bold" letter-spacing="0.35">(%cpm)</text>
<polyline points="322.2,531 353.75,480.78 416.85,505.38 511.51,517.18" fill="none" stroke="#000" stroke-width="1.5" stroke-linejoin="round"/>
<polyline points="322.2,531 353.75,439.11 416.85,418.17 511.51,445.41" fill="none" stroke="#000" stroke-width="1.5" stroke-linejoin="round"/>
<polyline points="322.2,531 353.75,457.41 416.85,440.94 511.51,478.14" fill="none" stroke="#000" stroke-width="1.5" stroke-linejoin="round"/>
<polyline points="322.2,531 353.75,463.71 416.85,473.87 511.51,477.33" fill="none" stroke="#000" stroke-width="1.5" stroke-linejoin="round"/>
<line x1="353.75" y1="432.4" x2="353.75" y2="443.5" stroke="#000" stroke-width="1.3" stroke-linecap="butt"/>
<line x1="350.25" y1="432.4" x2="357.25" y2="432.4" stroke="#000" stroke-width="1.3" stroke-linecap="butt"/>
<line x1="350.25" y1="443.5" x2="357.25" y2="443.5" stroke="#000" stroke-width="1.3" stroke-linecap="butt"/>
<line x1="416.85" y1="409.9" x2="416.85" y2="426.2" stroke="#000" stroke-width="1.3" stroke-linecap="butt"/>
<line x1="413.35" y1="409.9" x2="420.35" y2="409.9" stroke="#000" stroke-width="1.3" stroke-linecap="butt"/>
<line x1="413.35" y1="426.2" x2="420.35" y2="426.2" stroke="#000" stroke-width="1.3" stroke-linecap="butt"/>
<line x1="511.51" y1="437.2" x2="511.51" y2="453.8" stroke="#000" stroke-width="1.3" stroke-linecap="butt"/>
<line x1="508.01" y1="437.2" x2="515.01" y2="437.2" stroke="#000" stroke-width="1.3" stroke-linecap="butt"/>
<line x1="508.01" y1="453.8" x2="515.01" y2="453.8" stroke="#000" stroke-width="1.3" stroke-linecap="butt"/>
<line x1="416.85" y1="465.3" x2="416.85" y2="481.5" stroke="#000" stroke-width="1.3" stroke-linecap="butt"/>
<line x1="413.35" y1="465.3" x2="420.35" y2="465.3" stroke="#000" stroke-width="1.3" stroke-linecap="butt"/>
<line x1="413.35" y1="481.5" x2="420.35" y2="481.5" stroke="#000" stroke-width="1.3" stroke-linecap="butt"/>
<line x1="511.51" y1="469.4" x2="511.51" y2="485" stroke="#000" stroke-width="1.3" stroke-linecap="butt"/>
<line x1="508.01" y1="469.4" x2="515.01" y2="469.4" stroke="#000" stroke-width="1.3" stroke-linecap="butt"/>
<line x1="508.01" y1="485" x2="515.01" y2="485" stroke="#000" stroke-width="1.3" stroke-linecap="butt"/>
<line x1="353.75" y1="477.4" x2="353.75" y2="484.3" stroke="#000" stroke-width="1.3" stroke-linecap="butt"/>
<line x1="350.25" y1="477.4" x2="357.25" y2="477.4" stroke="#000" stroke-width="1.3" stroke-linecap="butt"/>
<line x1="350.25" y1="484.3" x2="357.25" y2="484.3" stroke="#000" stroke-width="1.3" stroke-linecap="butt"/>
<rect x="319.6" y="528.4" width="5.2" height="5.2" fill="#fff" stroke="#000" stroke-width="1.3"/>
<rect x="351.15" y="478.18" width="5.2" height="5.2" fill="#fff" stroke="#000" stroke-width="1.3"/>
<rect x="414.25" y="502.78" width="5.2" height="5.2" fill="#fff" stroke="#000" stroke-width="1.3"/>
<rect x="508.91" y="514.58" width="5.2" height="5.2" fill="#fff" stroke="#000" stroke-width="1.3"/>
<circle cx="322.2" cy="531" r="2.9" fill="#000"/>
<circle cx="353.75" cy="439.11" r="2.9" fill="#000"/>
<circle cx="416.85" cy="418.17" r="2.9" fill="#000"/>
<circle cx="511.51" cy="445.41" r="2.9" fill="#000"/>
<rect x="319.2" y="528" width="6.0" height="6.0" fill="#000"/>
<rect x="350.75" y="454.41" width="6.0" height="6.0" fill="#000"/>
<rect x="413.85" y="437.94" width="6.0" height="6.0" fill="#000"/>
<rect x="508.51" y="475.14" width="6.0" height="6.0" fill="#000"/>
<polygon points="322.2,527.16 318.7,533.56 325.7,533.56" fill="#000"/>
<polygon points="353.75,459.87 350.25,466.27 357.25,466.27" fill="#000"/>
<polygon points="416.85,470.03 413.35,476.43 420.35,476.43" fill="#000"/>
<polygon points="511.51,473.49 508.01,479.89 515.01,479.89" fill="#000"/>
<path d="M416.85,429.2L416.85,433.4M415.03,430.25L418.67,432.35M418.67,430.25L415.03,432.35" stroke="#707070" stroke-width="1.25" fill="none"/>
<path d="M414,455.2L414,459.4M412.18,456.25L415.82,458.35M415.82,456.25L412.18,458.35M419.7,455.2L419.7,459.4M417.88,456.25L421.52,458.35M421.52,456.25L417.88,458.35" stroke="#707070" stroke-width="1.25" fill="none"/>
<path d="M414,493.3L414,497.5M412.18,494.35L415.82,496.45M415.82,494.35L412.18,496.45M419.7,493.3L419.7,497.5M417.88,494.35L421.52,496.45M421.52,494.35L417.88,496.45" stroke="#707070" stroke-width="1.25" fill="none"/>
<path d="M509.35,460.4L509.35,464.6M507.53,461.45L511.17,463.55M511.17,461.45L507.53,463.55M515.05,460.4L515.05,464.6M513.23,461.45L516.87,463.55M516.87,461.45L513.23,463.55" stroke="#707070" stroke-width="1.25" fill="none"/>
<path d="M509.35,490.5L509.35,494.7M507.53,491.55L511.17,493.65M511.17,491.55L507.53,493.65M515.05,490.5L515.05,494.7M513.23,491.55L516.87,493.65M516.87,491.55L513.23,493.65" stroke="#707070" stroke-width="1.25" fill="none"/>
<path d="M509.35,505.4L509.35,509.6M507.53,506.45L511.17,508.55M511.17,506.45L507.53,508.55M515.05,505.4L515.05,509.6M513.23,506.45L516.87,508.55M516.87,506.45L513.23,508.55" stroke="#707070" stroke-width="1.25" fill="none"/>
</svg>
</body></html>
